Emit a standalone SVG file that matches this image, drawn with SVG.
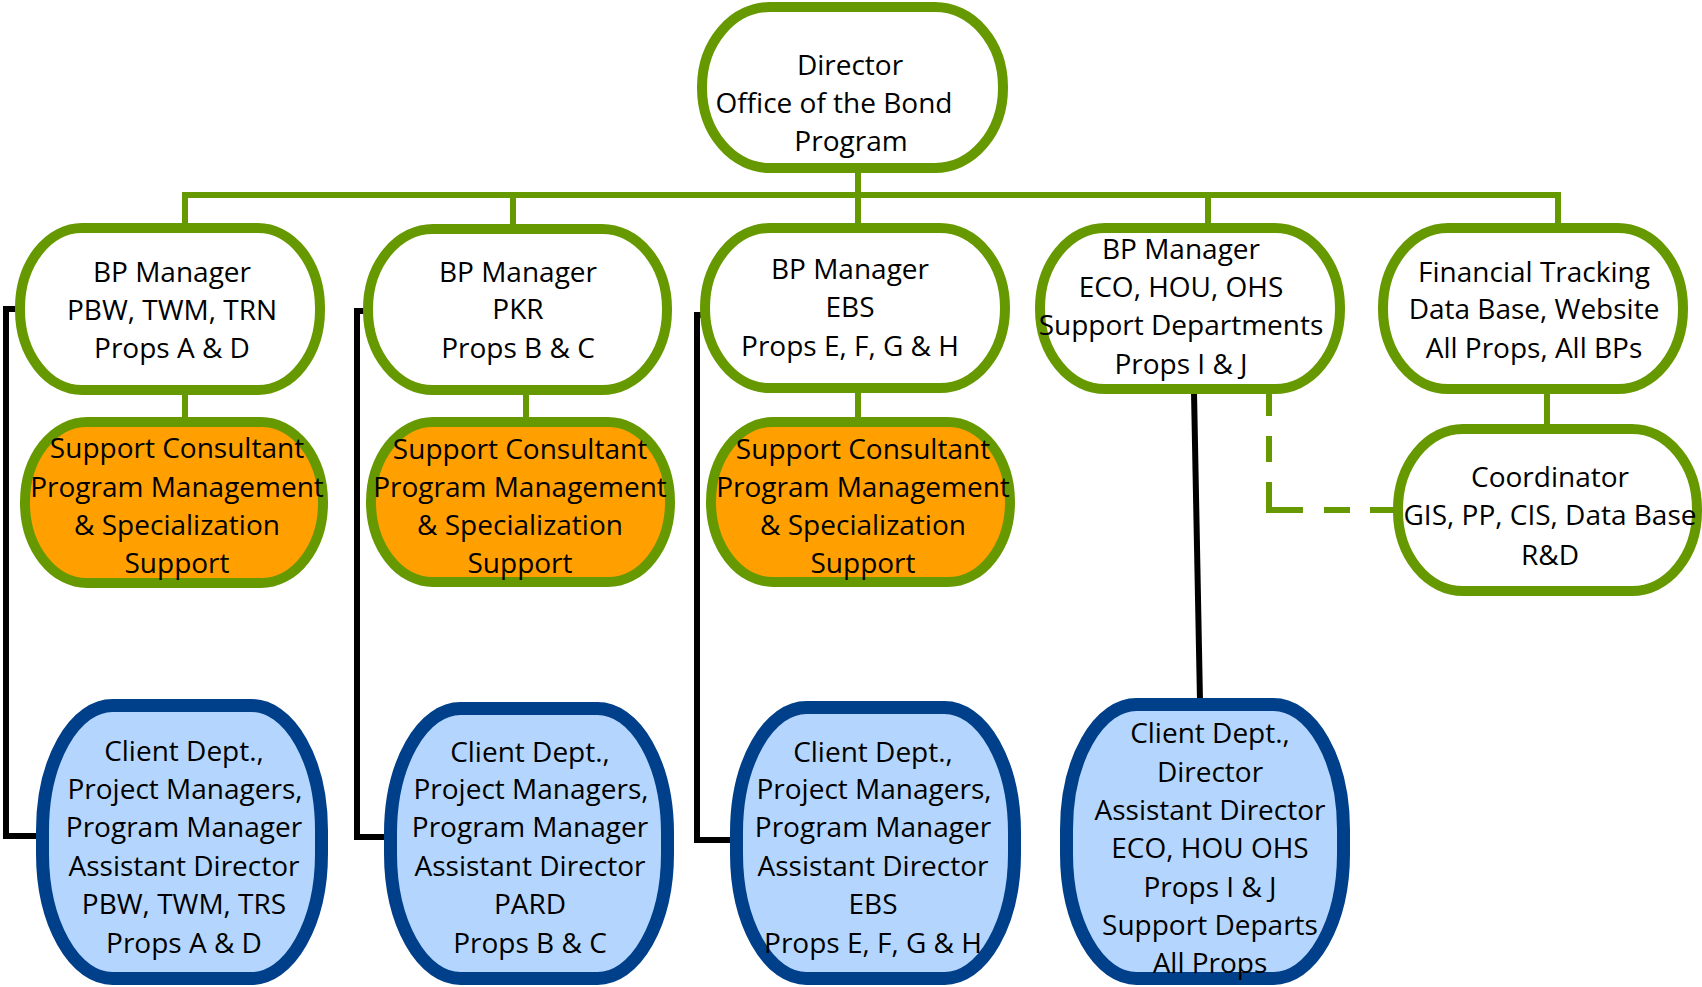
<svg xmlns="http://www.w3.org/2000/svg" width="1702" height="987" viewBox="0 0 1702 987">
<style>
.g{fill:#FFFFFF;stroke:#669900;stroke-width:10}
.o{fill:#FFA000;stroke:#669900;stroke-width:10}
.b{fill:#B4D6FE;stroke:#003F8A;stroke-width:13}
.gl{fill:none;stroke:#669900;stroke-width:6}
.bl{fill:none;stroke:#000000;stroke-width:6}
text{font-family:"Open Sans","DejaVu Sans",sans-serif;font-size:28px;fill:#000000;text-anchor:middle}
</style>
<rect width="1702" height="987" fill="#FFFFFF"/>
<g id="connectors">
<path class="gl" d="M858 168V195M182 195H1561M185 195V225M513 195V227M858 195V225M1208 195V225M1558 195V225"/>
<path class="gl" d="M185 393V420M526 393V420M858 391V420M1547 392V427"/>
<path class="gl" stroke-width="7" stroke-dasharray="22 20 26 20 62 21 26 20 30" d="M1269 394V510H1394"/>
<path class="bl" d="M17 309H6V836H37"/>
<path class="bl" d="M368 311H357V837H386"/>
<path class="bl" d="M707 315H697V840H731"/>
<path class="bl" d="M1194 392L1200 701"/>
</g>
<g id="director">
<rect class="g" x="702" y="7" width="301" height="161" rx="68" ry="80"/>
<text x="850" y="75">Director</text>
<text x="834" y="113">Office of the Bond</text>
<text x="851" y="151">Program</text>
</g>
<g id="bp1">
<rect class="g" x="20" y="228" width="300" height="162" rx="62" ry="80"/>
<text x="172" y="282">BP Manager</text>
<text x="172" y="320">PBW, TWM, TRN</text>
<text x="172" y="358">Props A &amp; D</text>
</g>
<g id="bp2">
<rect class="g" x="368" y="229" width="299" height="161" rx="65" ry="80"/>
<text x="518" y="282">BP Manager</text>
<text x="518" y="319">PKR</text>
<text x="518" y="358">Props B &amp; C</text>
</g>
<g id="bp3">
<rect class="g" x="705" y="228" width="300" height="160" rx="65" ry="80"/>
<text x="850" y="279">BP Manager</text>
<text x="850" y="317">EBS</text>
<text x="850" y="356">Props E, F, G &amp; H</text>
</g>
<g id="bp4">
<rect class="g" x="1040" y="228" width="300" height="161" rx="65" ry="80"/>
<text x="1181" y="259">BP Manager</text>
<text x="1181" y="297">ECO, HOU, OHS</text>
<text x="1181" y="335">Support Departments</text>
<text x="1181" y="374">Props I &amp; J</text>
</g>
<g id="financial">
<rect class="g" x="1383" y="228" width="300" height="161" rx="65" ry="80"/>
<text x="1534" y="282">Financial Tracking</text>
<text x="1534" y="319">Data Base, Website</text>
<text x="1534" y="358">All Props, All BPs</text>
</g>
<g id="coordinator">
<rect class="g" x="1398" y="429" width="299" height="162" rx="65" ry="80"/>
<text x="1550" y="487">Coordinator</text>
<text x="1550" y="525">GIS, PP, CIS, Data Base</text>
<text x="1550" y="565">R&amp;D</text>
</g>
<g id="support1">
<rect class="o" x="25" y="422" width="298" height="161" rx="62" ry="80"/>
<text x="177" y="458">Support Consultant</text>
<text x="177" y="497">Program Management</text>
<text x="177" y="535">&amp; Specialization</text>
<text x="177" y="573">Support</text>
</g>
<g id="support2">
<rect class="o" x="371" y="422" width="299" height="160" rx="62" ry="80"/>
<text x="520" y="459">Support Consultant</text>
<text x="520" y="497">Program Management</text>
<text x="520" y="535">&amp; Specialization</text>
<text x="520" y="573">Support</text>
</g>
<g id="support3">
<rect class="o" x="711" y="422" width="299" height="160" rx="62" ry="80"/>
<text x="863" y="459">Support Consultant</text>
<text x="863" y="497">Program Management</text>
<text x="863" y="535">&amp; Specialization</text>
<text x="863" y="573">Support</text>
</g>
<g id="client1">
<rect class="b" x="42.5" y="705.5" width="279" height="273" rx="70" ry="125"/>
<text x="184" y="761">Client Dept.,</text>
<text x="185" y="799">Project Managers,</text>
<text x="184" y="837">Program Manager</text>
<text x="184" y="876">Assistant Director</text>
<text x="184" y="914">PBW, TWM, TRS</text>
<text x="184" y="953">Props A &amp; D</text>
</g>
<g id="client2">
<rect class="b" x="390.5" y="708.5" width="277" height="270" rx="70" ry="125"/>
<text x="530" y="762">Client Dept.,</text>
<text x="531" y="799">Project Managers,</text>
<text x="530" y="837">Program Manager</text>
<text x="530" y="876">Assistant Director</text>
<text x="530" y="914">PARD</text>
<text x="530" y="953">Props B &amp; C</text>
</g>
<g id="client3">
<rect class="b" x="736.5" y="707.5" width="278" height="271" rx="70" ry="125"/>
<text x="873" y="762">Client Dept.,</text>
<text x="874" y="799">Project Managers,</text>
<text x="873" y="837">Program Manager</text>
<text x="873" y="876">Assistant Director</text>
<text x="873" y="914">EBS</text>
<text x="873" y="953">Props E, F, G &amp; H</text>
</g>
<g id="client4">
<rect class="b" x="1066.5" y="704.5" width="277" height="274" rx="70" ry="125"/>
<text x="1210" y="743">Client Dept.,</text>
<text x="1210" y="782">Director</text>
<text x="1210" y="820">Assistant Director</text>
<text x="1210" y="858">ECO, HOU OHS</text>
<text x="1210" y="897">Props I &amp; J</text>
<text x="1210" y="935">Support Departs</text>
<text x="1210" y="973">All Props</text>
</g>
</svg>
